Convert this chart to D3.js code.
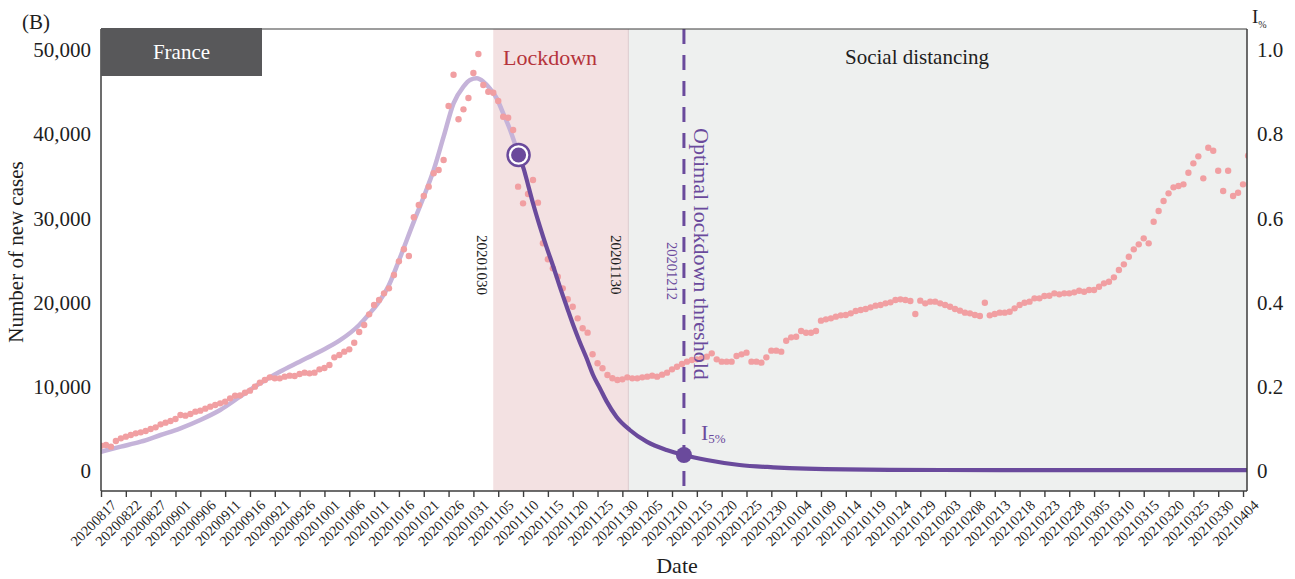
<!DOCTYPE html>
<html><head><meta charset="utf-8">
<script src="https://cdn.jsdelivr.net/npm/d3@7"></script>
<style>
body{margin:0;background:#fff}
svg{display:block}
text{font-family:"Liberation Serif","Times New Roman",serif}
</style>
</head><body>
<svg id="chart" width="1295" height="579"></svg>
<script>
// ---------- data ----------
const tickLabels = ["20200817","20200822","20200827","20200901","20200906","20200911","20200916","20200921","20200926",
"20201001","20201006","20201011","20201016","20201021","20201026","20201031","20201105","20201110","20201115","20201120",
"20201125","20201130","20201205","20201210","20201215","20201220","20201225","20201230","20210104","20210109","20210114",
"20210119","20210124","20210129","20210203","20210208","20210213","20210218","20210223","20210228","20210305","20210310",
"20210315","20210320","20210325","20210330","20210404"];
const tickStep = 5; // days between ticks

// daily new cases, day 0 = 20200817
const newCases = [
3000,3088,2890,3563,3880,4077,4275,4473,4592,4750,
4988,5186,5542,5740,5938,6175,6650,6571,6769,7046,
7165,7403,7641,7838,8036,8234,8630,8947,8987,9303,
9541,10016,10491,10807,11124,11005,11005,11203,11322,11282,
11520,11678,11599,11678,12074,12232,12589,13499,13776,14172,
14449,15240,16508,17339,18606,19714,20308,21100,21694,23277,
24900,26330,25530,30130,31590,32660,33770,35360,35750,36930,
43350,47060,41770,42950,44300,47270,49520,45840,45050,44930,
43940,42080,41960,40500,33770,31790,32900,34560,31870,27040,
25140,24070,23080,21690,20390,19510,18130,16950,16430,13860,
12790,12200,11400,11010,10810,10886,11124,11005,11005,11124,
11203,11322,11203,11441,11678,12074,12390,12707,12984,13182,
13261,13380,13578,13974,13261,12984,12984,12984,13657,13855,
14053,12984,12984,12866,13499,14291,14291,14172,15478,15874,
15953,16626,16428,16428,16626,17854,18012,18131,18329,18487,
18527,18725,19002,19120,19239,19437,19635,19714,19912,20031,
20308,20387,20308,20189,18645,20229,19912,20110,20110,19912,
19714,19516,19239,19041,18804,18725,18527,18408,19991,18487,
18645,18804,18804,18922,19318,19714,19991,20110,20506,20506,
20783,20822,21100,20981,21100,21100,21218,21416,21297,21495,
21495,21891,22287,22485,23000,23871,24544,25454,26325,26919,
27632,27038,29611,30878,32065,32976,33689,33847,34045,35430,
36538,37370,34758,38399,38043,35667,33253,35667,32659,33055,
34045,37449];

// fitted curve before the lockdown decision point (light) and after (dark)
const fitPreDays   = [0,4,8,12,16,20,24,28,32,36,40,44,48,52,54,56,58,60,63,65,67,69,71,73,74.3,75.7,77,78.3,79.7,81,82.4,84.1];
const fitPreValues = [2290,2890,3480,4275,5070,6057,7244,8827,10410,11797,12985,14172,15475,17339,18645,20110,22090,25000,
                      29610,32575,35747,39702,43668,45640,46435,46635,46235,45450,44260,42480,40500,37528];
const fitPostDays   = [84.1,85.1,86.1,87.1,88.4,89.7,91.1,92.4,93.8,95.1,96.4,97.8,99.1,100.5,101.8,103.8,106.5,109.9,113.9,117.4,122,128.6,135.4,142,158.8,181,205,230.8];
const fitPostValues = [37528,35950,33770,31590,29020,26640,24260,21890,19510,17340,15360,13380,11400,9800,8300,6450,4870,3480,2494,1900,1306,713,440,277,130,110,100,100];

const yTicks = [0,10000,20000,30000,40000,50000];
const iTicks = [0,0.2,0.4,0.6,0.8,1.0];
const lockdownSpan = [79, 106.2];          // days
const spanLabels = ["20201030","20201130"];
const thresholdDay = 117.4;
const thresholdLabel = "20201212";
const switchPoint = {day:84.1, value:37528};
const i5Point = {day:117.4, value:1900};

// ---------- layout ----------
const L = 101, R = 1247, T = 29, B = 491;
const svg = d3.select("#chart");
const x = d3.scaleLinear().domain([0, 230.8]).range([L, R]);
const y = d3.scaleLinear().domain([0, 50000]).range([471, 50]);
const yI = d3.scaleLinear().domain([0, 1]).range([471, 50]);

const purple = "#6a4a9c", lavender = "#c5b3d9", axisCol = "#3d3d3d", txt = "#1e1e1e";

svg.append("defs").append("clipPath").attr("id","plotclip")
  .append("rect").attr("x",L).attr("y",T).attr("width",R-L).attr("height",B-T);

// backgrounds
svg.append("rect").attr("x",x(lockdownSpan[1])).attr("y",T).attr("width",R-x(lockdownSpan[1])).attr("height",B-T).attr("fill","#eef0ef");
svg.append("rect").attr("x",x(lockdownSpan[0])).attr("y",T).attr("width",x(lockdownSpan[1])-x(lockdownSpan[0])).attr("height",B-T).attr("fill","#f3e1e2");
svg.append("line").attr("x1",x(lockdownSpan[1])).attr("x2",x(lockdownSpan[1])).attr("y1",T).attr("y2",B).attr("stroke","#dccbce").attr("stroke-width",1);

const plot = svg.append("g").attr("clip-path","url(#plotclip)");

// pre-decision fit
const line = d3.line().x(d=>x(d[0])).y(d=>y(d[1])).curve(d3.curveMonotoneX);
plot.append("path").datum(fitPreDays.map((d,i)=>[d,fitPreValues[i]]))
  .attr("d",line).attr("fill","none").attr("stroke",lavender).attr("stroke-width",4.5).attr("stroke-linecap","round");

// data dots
plot.append("g").selectAll("circle").data(newCases).join("circle")
  .attr("cx",(d,i)=>x(i)).attr("cy",d=>y(d)).attr("r",3.2).attr("fill","#f19fa2");

// post-decision fit
plot.append("path").datum(fitPostDays.map((d,i)=>[d,fitPostValues[i]]))
  .attr("d",line).attr("fill","none").attr("stroke",purple).attr("stroke-width",4.2).attr("stroke-linecap","round");

// threshold dashed line
svg.append("line").attr("x1",x(thresholdDay)).attr("x2",x(thresholdDay)).attr("y1",T).attr("y2",B)
  .attr("stroke",purple).attr("stroke-width",3).attr("stroke-dasharray","15,11");

// markers
svg.append("circle").attr("cx",x(switchPoint.day)).attr("cy",y(switchPoint.value)).attr("r",11)
  .attr("fill","#fff").attr("stroke",purple).attr("stroke-width",2.5);
svg.append("circle").attr("cx",x(switchPoint.day)).attr("cy",y(switchPoint.value)).attr("r",7.5).attr("fill",purple);
svg.append("circle").attr("cx",x(i5Point.day)).attr("cy",y(i5Point.value)).attr("r",8).attr("fill",purple);

// frame
const fr = svg.append("g").attr("stroke",axisCol).attr("stroke-width",1.5);
fr.append("line").attr("x1",L).attr("x2",R).attr("y1",T).attr("y2",T).attr("stroke-width",1.2);
fr.append("line").attr("x1",L).attr("x2",L).attr("y1",T).attr("y2",B);
fr.append("line").attr("x1",R).attr("x2",R).attr("y1",T).attr("y2",B);
fr.append("line").attr("x1",L).attr("x2",R).attr("y1",B).attr("y2",B);

// France box
svg.append("rect").attr("x",L).attr("y",T-1).attr("width",161).attr("height",48).attr("fill","#58585a");
svg.append("text").attr("x",L+80.5).attr("y",59).attr("text-anchor","middle").attr("fill","#fff").attr("font-size",21).text("France");

// panel letter
svg.append("text").attr("x",22).attr("y",29).attr("font-size",21).attr("fill",txt).text("(B)");

// region labels
svg.append("text").attr("x",503).attr("y",65).attr("font-size",22).attr("fill","#b5333b").text("Lockdown");
svg.append("text").attr("x",845).attr("y",64).attr("font-size",21).attr("fill",txt).text("Social distancing");

// vertical date labels
svg.append("text").attr("transform",`translate(${x(lockdownSpan[0])-16},235) rotate(90)`).attr("font-size",15).attr("fill",txt).text(spanLabels[0]);
svg.append("text").attr("transform",`translate(${x(lockdownSpan[1])-17},235) rotate(90)`).attr("font-size",15).attr("fill",txt).text(spanLabels[1]);
svg.append("text").attr("transform",`translate(${x(thresholdDay)-17},242) rotate(90)`).attr("font-size",14.5).attr("fill",purple).text(thresholdLabel);
svg.append("text").attr("transform",`translate(${x(thresholdDay)+10},128) rotate(90)`).attr("font-size",22).attr("fill",purple).text("Optimal lockdown threshold");

// I5% label
const i5 = svg.append("text").attr("x",x(i5Point.day)+17).attr("y",440).attr("fill",purple).attr("font-size",22);
i5.append("tspan").text("I");
i5.append("tspan").attr("font-size",13).attr("dy",3).text("5%");

// left axis
const ga = svg.append("g").attr("transform",`translate(${L},0)`)
  .call(d3.axisLeft(y).tickValues(yTicks).tickSize(0).tickPadding(10).tickFormat(d3.format(",")));
ga.select(".domain").remove();
ga.selectAll("text").attr("font-size",21).attr("fill",txt).attr("font-family","Liberation Serif");

// right axis
const gr = svg.append("g").attr("transform",`translate(${R},0)`)
  .call(d3.axisRight(yI).tickValues(iTicks).tickSize(0).tickPadding(10).tickFormat(d=>d===0?"0":d3.format(".1f")(d)));
gr.select(".domain").remove();
gr.selectAll("text").attr("font-size",21).attr("fill",txt).attr("font-family","Liberation Serif");
const ih = svg.append("text").attr("x",R+5).attr("y",23).attr("fill",txt).attr("font-size",19);
ih.append("tspan").text("I");
ih.append("tspan").attr("font-size",10).attr("dy",5).text("%");

// bottom axis
const tickDays = tickLabels.map((d,i)=>i*tickStep);
const gb = svg.append("g").attr("transform",`translate(0,${B})`)
  .call(d3.axisBottom(x).tickValues(tickDays).tickSize(6).tickFormat((d,i)=>tickLabels[i]));
gb.select(".domain").remove();
gb.selectAll(".tick line").attr("stroke",axisCol).attr("stroke-width",1.4);
gb.selectAll("text").attr("y",null).attr("dy",null).attr("x",null)
  .attr("transform","translate(16,15) rotate(-45)").attr("text-anchor","end")
  .attr("font-size",14.5).attr("fill",txt).attr("font-family","Liberation Serif");

// axis titles
svg.append("text").attr("x",(L+R)/2+3).attr("y",573).attr("text-anchor","middle").attr("font-size",22).attr("fill",txt).text("Date");
svg.append("text").attr("transform","translate(23,252) rotate(-90)").attr("text-anchor","middle").attr("font-size",21).attr("fill",txt).text("Number of new cases");
</script>
</body></html>
